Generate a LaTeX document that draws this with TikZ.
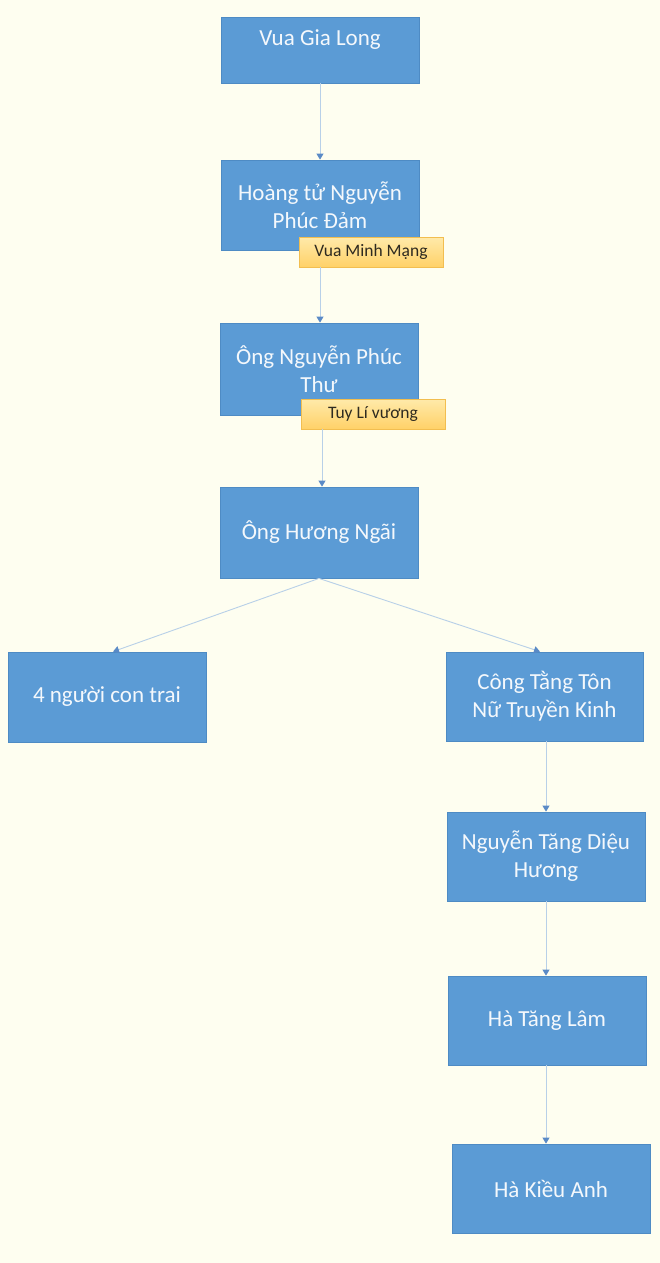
\documentclass[tikz,border=0pt]{standalone}
\usepackage{fontspec}
\setmainfont{Carlito}
\usetikzlibrary{arrows.meta,calc}
\definecolor{bg}{HTML}{FEFEF0}
\definecolor{boxblue}{HTML}{5B9BD5}
\definecolor{boxedge}{HTML}{4E8BC4}
\definecolor{boxtext}{HTML}{F4F8FC}
\definecolor{lineblue}{HTML}{B8D0E8}
\definecolor{tipblue}{HTML}{5A8AC6}
\definecolor{labtop}{HTML}{FFEAAA}
\definecolor{labbot}{HTML}{FFD168}
\definecolor{labedge}{HTML}{F2BE50}
\definecolor{labtext}{HTML}{2E2A20}
\tikzset{
  box/.style={draw=boxedge, line width=0.8pt, fill=boxblue, minimum width=198pt, minimum height=90pt,
    inner sep=0pt, align=center, text=boxtext, font=\fontsize{23}{28}\selectfont},
  boxlabel/.style={inner sep=0pt, text=boxtext, font=\fontsize{23}{28}\selectfont},
  tag/.style={draw=labedge, line width=0.8pt, top color=labtop, bottom color=labbot, minimum width=144pt,
    minimum height=30pt, inner sep=0pt, text=labtext, font=\fontsize{17.5}{20}\selectfont},
  conn/.style={draw=lineblue, line width=0.9pt, -{Triangle[length=6pt,width=7pt,color=tipblue]}}
}
\begin{document}
\begin{tikzpicture}[x=1pt,y=-1pt]
\fill[bg] (0,0) rectangle (660,1263);
\useasboundingbox (0,0) rectangle (660,1263);
% boxes
\node[box, minimum height=66pt] (b1) at (320,50) {};
\node[boxlabel] (t1) at (320,40) {Vua Gia Long};
\node[box] (b2) at (320,205) {Hoàng tử Nguyễn\\Phúc Đảm};
\node[box, minimum height=92pt] (b3) at (319,369) {Ông Nguyễn Phúc\\Thư};
\node[box, minimum height=91pt] (b4) at (319,532.5) {Ông Hương Ngãi};
\node[box] (b5) at (107,697) {4 người con trai};
\node[box, minimum width=197pt, minimum height=89pt] (b6) at (544.5,696.5) {Công Tằng Tôn\\Nữ Truyền Kinh};
\node[box, minimum height=89pt] (b7) at (546,856.5) {Nguyễn Tăng Diệu\\Hương};
\node[box, minimum height=89pt] (b8) at (547,1020.5) {Hà Tăng Lâm};
\node[box, minimum height=89pt] (b9) at (551,1188.5) {Hà Kiều Anh};
% tags
\node[tag] (l1) at (371,252) {Vua Minh Mạng};
\node[tag] (l2) at (373,414) {Tuy Lí vương};
% connectors
\draw[conn] (b1.south) -- (b2.north);
\draw[conn] (l1.south -| b2.south) -- (b3.north -| b2.south);
\draw[conn] ([xshift=3pt]b4.north |- l2.south) -- ([xshift=3pt]b4.north);
\draw[conn] (b4.south) -- ([xshift=6pt]b5.north);
\draw[conn] (b4.south) -- ([xshift=-4.5pt]b6.north);
\draw[conn] (b6.south -| b7.north) -- (b7.north);
\draw[conn] (b7.south) -- (b7.south |- b8.north);
\draw[conn] (b8.south -| b7.south) -- (b9.north -| b7.south);
\end{tikzpicture}
\end{document}
